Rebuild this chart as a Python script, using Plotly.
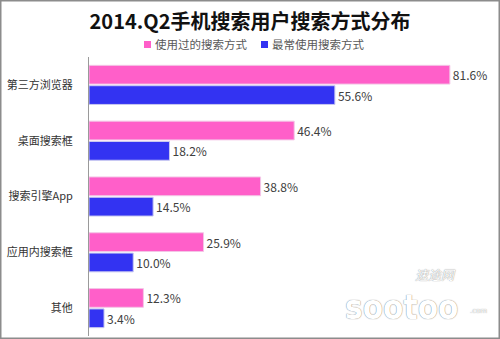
import plotly.graph_objects as go

# Survey data: search methods used by mobile search users, 2014 Q2
categories = ["第三方浏览器", "桌面搜索框", "搜索引擎App", "应用内搜索框", "其他"]
used_ever = [81.6, 46.4, 38.8, 25.9, 12.3]
used_most = [55.6, 18.2, 14.5, 10.0, 3.4]
series_names = ["使用过的搜索方式", "最常使用搜索方式"]
series_colors = ["#FF5FC9", "#3333F2"]
edge_colors = ["#F3C6E6", "#C8C8F0"]

W, H = 500, 339
L, R, T, B = 89, 13, 57, 3
pw, ph = W - L - R, H - T - B


def px_x(v):
    return (v - L) / pw


def px_y(v):
    return (H - B - v) / ph


cjk = "Noto Sans CJK SC"

fig = go.Figure()
for name, vals, col, edge in zip(series_names, [used_ever, used_most], series_colors, edge_colors):
    fig.add_trace(go.Bar(
        y=categories, x=vals, name=name, orientation="h",
        marker=dict(color=col, line=dict(color=edge, width=1)),
        text=vals, texttemplate="%{x:.1f}%", textposition="outside",
        textfont=dict(family=cjk, size=12, color="#404040"), cliponaxis=False,
        showlegend=False,
    ))

fig.update_layout(
    width=W, height=H,
    margin=dict(l=L, r=R, t=T, b=B, pad=0),
    paper_bgcolor="white", plot_bgcolor="white",
    barmode="group", bargap=0.27, bargroupgap=0.08,
    title=dict(
        text="<b>2014.Q2手机搜索用户搜索方式分布</b>",
        x=0.5, xanchor="center", y=1 - 22 / H, yanchor="middle",
        font=dict(family=cjk, size=20, color="#111111"),
    ),
    xaxis=dict(range=[0, 90], visible=False, fixedrange=True),
    yaxis=dict(
        autorange="reversed", showgrid=False, ticks="",
        showline=True, linecolor="#9A9A9A", linewidth=1,
        tickfont=dict(family=cjk, size=11, color="#333333"),
        ticklabelstandoff=13,
    ),
)

# Legend: colour swatch plus series name
legend_pos = [(144, 153), (261, 270)]
for (sx, tx), name, col in zip(legend_pos, series_names, series_colors):
    fig.add_shape(
        type="rect", xref="paper", yref="paper",
        x0=px_x(sx), x1=px_x(sx + 7), y0=px_y(48), y1=px_y(41),
        fillcolor=col, line=dict(width=0),
    )
    fig.add_annotation(
        xref="paper", yref="paper", x=px_x(tx), y=px_y(44.5),
        xanchor="left", yanchor="middle", showarrow=False,
        text=name, font=dict(family=cjk, size=11.5, color="#595959"),
    )

# Outer frame
fig.add_shape(
    type="rect", xref="paper", yref="paper",
    x0=px_x(0.75), x1=px_x(W - 0.75), y0=px_y(H - 0.75), y1=px_y(0.75),
    line=dict(color="#8C8C8C", width=1.5), fillcolor="rgba(0,0,0,0)", layer="above",
)

# Watermark logo
fig.add_annotation(
    xref="paper", yref="paper", x=px_x(413), y=px_y(286), xanchor="left", yanchor="bottom",
    showarrow=False, text="<i>速途网</i>",
    font=dict(family=cjk, size=13, color="#FFFFFF", shadow="0px 0px 1px #6A6A6A"),
)
fig.add_annotation(
    xref="paper", yref="paper", x=px_x(343), y=px_y(286), xanchor="left", yanchor="top",
    showarrow=False, text="<b>sootoo</b>",
    font=dict(family="DejaVu Sans Condensed", size=33, color="#FFFFFF",
              shadow="0px 0px 1px #555555"),
)
fig.add_annotation(
    xref="paper", yref="paper", x=px_x(468), y=px_y(311), xanchor="left", yanchor="middle",
    showarrow=False, text=".com",
    font=dict(family="DejaVu Sans", size=7, color="#FFFFFF", shadow="0px 0px 1px #777777"),
)

fig.write_html("out.html")
